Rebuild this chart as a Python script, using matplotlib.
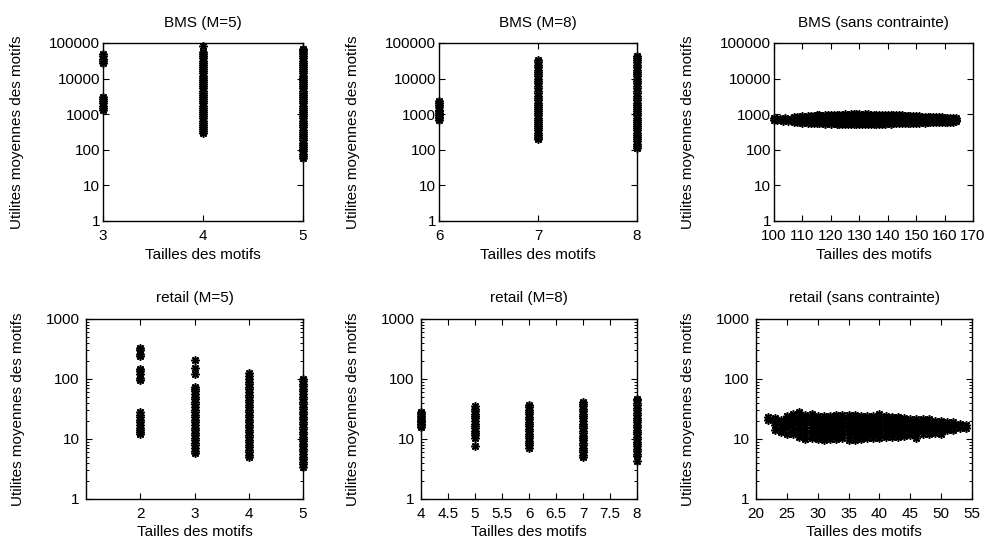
import matplotlib
matplotlib.use("Agg")
import matplotlib.pyplot as plt
from matplotlib.ticker import FixedLocator, FixedFormatter, LogLocator, NullFormatter, NullLocator

plt.rcParams['font.family'] = ['Liberation Sans', 'DejaVu Sans']

# ---------------- data ----------------
# BMS (M=5)
bms5_sizes = [3, 4, 5]
bms5_utils = [
    [1300, 1450, 1700, 2000, 2300, 2700, 3000, 27000, 31000, 36000, 42000, 48000],
    [300, 330, 380, 430, 500, 570, 660, 760, 870, 1000, 1150, 1320, 1500, 1750, 2000,
     2300, 2650, 3000, 3500, 4000, 4600, 5300, 6100, 7000, 8000, 9200, 10500, 12000,
     14000, 16000, 18500, 21000, 24000, 28000, 32000, 37000, 42000, 48000, 55000, 80000],
    [60, 68, 78, 90, 105, 120, 140, 160, 185, 210, 245, 280, 320, 370, 430, 500, 570,
     660, 760, 870, 1000, 1150, 1320, 1500, 1750, 2000, 2300, 2650, 3000, 3500, 4000,
     4600, 5300, 6100, 7000, 8000, 9200, 10500, 12000, 14000, 16000, 18500, 21000,
     24000, 28000, 32000, 37000, 42000, 48000, 55000, 63000, 70000],
]

# BMS (M=8)
bms8_sizes = [6, 7, 8]
bms8_utils = [
    [700, 780, 850, 950, 1050, 1200, 1350, 1550, 1800, 2100, 2400],
    [200, 230, 260, 300, 350, 400, 460, 530, 610, 700, 800, 920, 1050, 1200, 1400, 1600,
     1850, 2100, 2450, 2800, 3300, 3900, 4600, 5400, 6300, 7300, 8500, 10000, 11500,
     13500, 15500, 18000, 21000, 24500, 28500, 33000],
    [115, 130, 150, 175, 200, 230, 265, 300, 350, 400, 460, 530, 610, 700, 800, 920,
     1050, 1200, 1400, 1600, 1850, 2100, 2450, 2800, 3300, 3900, 4600, 5400, 6300, 7300,
     8500, 10000, 11500, 13500, 15500, 18000, 21000, 24500, 28500, 33000, 38000, 44000],
]

# BMS (sans contrainte)
bms_free_sizes = [100, 101, 102, 103, 104, 105, 106, 107, 108, 109, 110, 111, 112, 113,
                  114, 115, 116, 117, 118, 119, 120, 121, 122, 123, 124, 125, 126, 127,
                  128, 129, 130, 131, 132, 133, 134, 135, 136, 137, 138, 139, 140, 141,
                  142, 143, 144, 145, 146, 147, 148, 149, 150, 151, 152, 153, 154, 155,
                  156, 157, 158, 159, 160, 161, 162, 163, 164]
bms_free_utils = [
    [700, 760], [680, 730], [710], [660, 740], [700, 780], [650], [690, 750],
    [620, 720, 820], [600, 700, 830], [590, 690, 850], [580, 680, 800, 880],
    [590, 700, 860], [570, 670, 790, 890], [580, 690, 820, 900], [560, 660, 780, 900],
    [560, 650, 760, 880, 940], [550, 640, 750, 870, 930], [560, 660, 770, 900],
    [540, 630, 740, 860, 950], [550, 650, 760, 880, 960], [540, 640, 750, 870, 960],
    [550, 630, 740, 860, 970], [540, 640, 760, 880, 960], [530, 630, 740, 860, 980],
    [540, 640, 750, 870, 970], [530, 620, 740, 860, 990], [540, 630, 750, 880, 980],
    [530, 620, 740, 870, 1000], [540, 640, 760, 880, 990], [530, 630, 740, 870, 1000],
    [540, 630, 750, 880, 990], [530, 620, 740, 860, 980], [540, 640, 760, 880, 1000],
    [530, 630, 750, 870, 990], [540, 640, 760, 880, 970], [530, 630, 740, 860, 980],
    [540, 640, 750, 870, 970], [530, 620, 740, 860, 960], [540, 640, 760, 880, 970],
    [540, 630, 750, 870, 960], [550, 640, 760, 880, 960], [540, 630, 740, 860, 950],
    [550, 650, 760, 880, 950], [550, 640, 750, 870, 940], [560, 650, 760, 880, 930],
    [560, 650, 760, 870, 920], [570, 660, 770, 880, 910], [560, 650, 760, 870, 900],
    [570, 660, 770, 880], [580, 670, 780, 880], [570, 660, 770, 870],
    [580, 670, 780, 870], [590, 680, 790, 860], [580, 670, 780, 860],
    [590, 680, 790, 850], [600, 690, 800, 850], [590, 690, 790, 840],
    [600, 700, 800, 840], [610, 700, 800, 830], [600, 690, 790, 830],
    [610, 700, 800], [620, 710, 800], [610, 700, 790], [620, 710, 790], [630, 700, 780],
]

# retail (M=5)
retail5_sizes = [2, 3, 4, 5]
retail5_utils = [
    [12, 13, 14, 15.5, 17, 19, 21, 23, 25, 28, 95, 105, 120, 135, 145, 240, 260, 300, 330],
    [5.8, 6.3, 7, 7.8, 8.6, 9.5, 10.5, 11.5, 12.7, 14, 15.5, 17, 19, 21, 23, 25.5, 28,
     31, 34, 38, 42, 46, 51, 56, 62, 68, 74, 120, 150, 210],
    [5.1, 5.5, 6, 6.6, 7.3, 8, 8.8, 9.7, 10.7, 11.8, 13, 14.3, 15.8, 17.4, 19, 21, 23,
     25.5, 28, 31, 34, 37.5, 41, 45, 50, 55, 61, 67, 74, 82, 90, 100, 112, 125],
    [3.4, 3.8, 4.2, 4.6, 5.1, 5.6, 6.2, 6.8, 7.5, 8.3, 9.1, 10, 11, 12.1, 13.3, 14.6,
     16, 17.6, 19.4, 21.3, 23.5, 26, 28.5, 31.5, 34.5, 38, 42, 46, 51, 56, 62, 68, 75,
     83, 92, 100],
]

# retail (M=8)
retail8_sizes = [4, 5, 6, 7, 8]
retail8_utils = [
    [16, 17, 18, 19, 20, 21, 22.5, 24, 26, 28],
    [7.5, 10.5, 11.5, 12.5, 13.5, 15, 16.5, 18, 20, 22, 24, 26.5, 29, 32, 35],
    [7.2, 7.8, 8.5, 9.3, 10.2, 11.2, 12.3, 13.5, 14.8, 16.2, 17.8, 19.5, 21.5, 23.5, 26,
     28.5, 31, 34, 37.5],
    [5, 5.5, 6, 6.6, 7.2, 7.9, 8.7, 9.5, 10.4, 11.4, 12.5, 13.7, 15, 16.5, 18, 20, 22,
     24, 26.5, 29, 32, 35, 38.5, 42],
    [4.3, 5.2, 5.7, 6.2, 6.8, 7.5, 8.2, 9, 9.9, 10.8, 11.9, 13, 14.3, 15.7, 17.2, 19,
     20.8, 22.8, 25, 27.5, 30, 33, 36.5, 40, 44, 47],
]

# retail (sans contrainte)
retail_free_sizes = [22, 23, 24, 25, 26, 27, 28, 29, 30, 31, 32, 33, 34, 35, 36, 37, 38,
                     39, 40, 41, 42, 43, 44, 45, 46, 47, 48, 49, 50, 51, 52, 53, 54]
retail_free_utils = [
    [21, 23], [14, 17, 20, 22], [13, 16, 19, 21], [12, 15, 18, 21, 24],
    [12, 14, 17, 20, 23, 26], [11, 13, 16, 19, 22, 25, 28], [10, 12, 14, 17, 20, 23, 25],
    [10.5, 12, 14, 17, 20, 23, 26], [10, 11.5, 13.5, 16, 18.5, 21, 24],
    [9.8, 11.5, 13.5, 16, 18.5, 21, 24.5], [10, 11.5, 13.5, 16, 18.5, 21, 24],
    [10, 11.5, 13.5, 16, 18.5, 21.5, 25], [10.2, 12, 14, 16.5, 19, 22, 25],
    [9.6, 11.5, 13.5, 16, 18.5, 21.5, 25], [9.8, 11.5, 13.5, 16, 18.5, 21.5, 25],
    [10, 11.5, 13.5, 16, 18.5, 21.5, 24.5], [10.2, 12, 14, 16.5, 19, 22, 24.5],
    [10.3, 12, 14, 16.5, 19, 22, 24], [10.5, 12, 14, 16.5, 19, 22, 26],
    [10.8, 12.5, 14.5, 17, 19.5, 22, 24], [11, 12.5, 14.5, 17, 19.5, 22, 23.5],
    [11, 12.5, 14.5, 17, 19.5, 22, 23], [11.2, 13, 15, 17, 19.5, 22],
    [11.5, 13, 15, 17, 19.5, 21.5], [10.5, 12.5, 14.5, 16.5, 19, 21.5],
    [12, 13.5, 15.5, 17.5, 20, 21.5], [12, 13.5, 15.5, 17.5, 19.5, 21.5],
    [12.5, 14, 16, 18, 20], [12, 14, 16, 18, 20], [14, 15.5, 17, 19],
    [14, 15.5, 17, 19], [15, 16.5, 18], [15.5, 17],
]

titles = ["BMS (M=5)", "BMS (M=8)", "BMS (sans contrainte)",
          "retail (M=5)", "retail (M=8)", "retail (sans contrainte)"]
xlabel_text = "Tailles des motifs"
ylabel_text = "Utilites moyennes des motifs"

bms_yticks = [1, 10, 100, 1000, 10000, 100000]
bms_yticklabels = ["1", "10", "100", "1000", "10000", "100000"]
retail_yticks = [1, 10, 100, 1000]
retail_yticklabels = ["1", "10", "100", "1000"]

bms5_xticks = [3, 4, 5]
bms8_xticks = [6, 7, 8]
bms_free_xticks = [100, 110, 120, 130, 140, 150, 160, 170]
retail5_xticks = [2, 3, 4, 5]
retail8_xticks = [4, 4.5, 5, 5.5, 6, 6.5, 7, 7.5, 8]
retail8_xticklabels = ["4", "4.5", "5", "5.5", "6", "6.5", "7", "7.5", "8"]
retail_free_xticks = [20, 25, 30, 35, 40, 45, 50, 55]

# ---------------- figure ----------------
W, H = 988, 547
fig = plt.figure(figsize=(W / 100, H / 100), dpi=100)

def px_axes(left, right, top, bottom):
    return fig.add_axes([left / W, 1 - bottom / H, (right - left) / W, (bottom - top) / H])

panels = [
    dict(box=(103, 303, 43, 221), sizes=bms5_sizes, utils=bms5_utils, xlim=(3, 5),
         xticks=bms5_xticks, xtl=None, top=True, ylab_px=17),
    dict(box=(439, 637, 43, 221), sizes=bms8_sizes, utils=bms8_utils, xlim=(6, 8),
         xticks=bms8_xticks, xtl=None, top=True, ylab_px=353),
    dict(box=(774, 973, 43, 221), sizes=bms_free_sizes, utils=bms_free_utils, xlim=(100, 170),
         xticks=bms_free_xticks, xtl=None, top=True, ylab_px=688),
    dict(box=(86, 303, 319, 499), sizes=retail5_sizes, utils=retail5_utils, xlim=(1, 5),
         xticks=retail5_xticks, xtl=None, top=False, ylab_px=18),
    dict(box=(421, 637, 319, 499), sizes=retail8_sizes, utils=retail8_utils, xlim=(4, 8),
         xticks=retail8_xticks, xtl=retail8_xticklabels, top=False, ylab_px=353),
    dict(box=(756, 972, 319, 499), sizes=retail_free_sizes, utils=retail_free_utils, xlim=(20, 55),
         xticks=retail_free_xticks, xtl=None, top=False, ylab_px=688),
]

for p, title in zip(panels, titles):
    l, r, t, b = p["box"]
    ax = px_axes(l, r, t, b)
    for x, ys in zip(p["sizes"], p["utils"]):
        ax.plot([x] * len(ys), ys, linestyle="none", marker=(8, 2, 0), ms=6, mew=1.15,
                color="black", clip_on=False, zorder=3)
    ax.set_yscale("log")
    if p["top"]:
        ax.set_ylim(1, 100000)
        ax.yaxis.set_major_locator(FixedLocator(bms_yticks))
        ax.yaxis.set_major_formatter(FixedFormatter(bms_yticklabels))
        ypad = 2
    else:
        ax.set_ylim(1, 1000)
        ax.yaxis.set_major_locator(FixedLocator(retail_yticks))
        ax.yaxis.set_major_formatter(FixedFormatter(retail_yticklabels))
        ypad = 4.5
    ax.yaxis.set_minor_locator(LogLocator(base=10, subs=[2, 3, 4, 5, 6, 7, 8, 9]))
    ax.yaxis.set_minor_formatter(NullFormatter())
    ax.set_xlim(*p["xlim"])
    ax.xaxis.set_major_locator(FixedLocator(p["xticks"]))
    if p["xtl"] is not None:
        ax.xaxis.set_major_formatter(FixedFormatter(p["xtl"]))
    else:
        ax.xaxis.set_major_formatter(FixedFormatter([("%g" % v) for v in p["xticks"]]))
    ax.xaxis.set_minor_locator(NullLocator())
    ax.tick_params(which="major", direction="in", length=4.5, width=0.8, top=True,
                   right=True, labelsize=11, colors="black")
    ax.tick_params(which="minor", direction="in", length=2.2, width=0.7, top=True, right=True)
    ax.tick_params(axis="x", pad=6)
    ax.tick_params(axis="y", which="major", pad=ypad)
    for s in ax.spines.values():
        s.set_linewidth(1.0)
        s.set_color("black")
    ax.set_title(title, fontsize=11, pad=11.5 if p["top"] else 12)
    ax.set_xlabel(xlabel_text, fontsize=11, va="baseline")
    ax.set_ylabel(ylabel_text, fontsize=11, va="center")
    height = b - t
    if p["top"]:
        ax.xaxis.set_label_coords(0.5, -(259 - b) / height)
    else:
        ax.xaxis.set_label_coords(0.5, -(536 - b) / height)
    ax.yaxis.set_label_coords((p["ylab_px"] - l) / (r - l), 0.5)

fig.savefig("out.png", dpi=100)
